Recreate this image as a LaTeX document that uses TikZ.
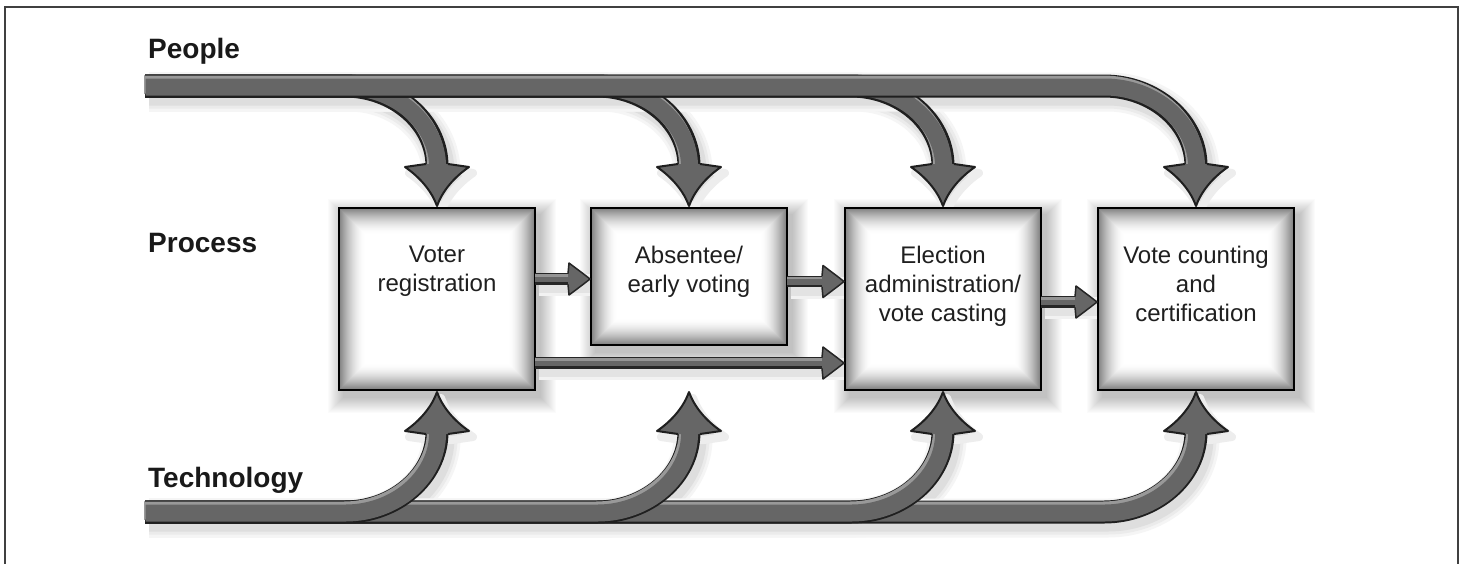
\documentclass[tikz,border=0pt]{standalone}
\usepackage{fontspec}
\setmainfont{Liberation Sans}
\usetikzlibrary{calc}
\pgfdeclarelayer{shadowlayer}
\pgfsetlayers{shadowlayer,main}

\newcommand\downheadpath{(-11,-42) -- (-32,-39) .. controls (-16,-28) and (-5,-14) .. (0,0) .. controls (5,-14) and (16,-28) .. (32,-39) -- (11,-42)}
\newcommand\rightheadpath{(-22,-5.5) -- (-21,-16) .. controls (-13,-10) and (-5,-4) .. (0,0) .. controls (-5,4) and (-13,10) .. (-21,16) -- (-22,5.5)}
\newcommand\ppath[1]{(pstart) -- ($(pstart -| #1.north)+(-92,0)$) .. controls ($(pstart -| #1.north)+(-42,0)$) and ($(pstart -| #1.north)+(0,36)$) .. ($(pstart -| #1.north)+(0,80)$) -- ($(#1.north)+(0,-36)$)}
\newcommand\tpath[1]{(tstart) -- ($(tstart -| #1.south)+(-92,0)$) .. controls ($(tstart -| #1.south)+(-42,0)$) and ($(tstart -| #1.south)+(0,-36)$) .. ($(tstart -| #1.south)+(0,-80)$) -- ($(tstart -| #1.south)+(0,-84)$)}

\newcommand\peoplearrow[1]{%
  \draw[bandout] \ppath{#1};
  \draw[bandlight, transform canvas={shift={(-1,-1.5)}}] \ppath{#1};
  \draw[bandin, transform canvas={shift={(0.6,1)}}] \ppath{#1};
  \begin{scope}[shift={($(#1.north)+(0,-2)$)}]
    \fill[headfill] \downheadpath -- cycle;
    \draw[headline] \downheadpath;
  \end{scope}}
\newcommand\techarrow[1]{%
  \draw[bandout] \tpath{#1};
  \draw[bandlight, transform canvas={shift={(-1,-1.5)}}] \tpath{#1};
  \draw[bandin, transform canvas={shift={(0.6,1)}}] \tpath{#1};
  \begin{scope}[shift={($(tstart -| #1.south)+(0,-120)$)},yscale=-1]
    \fill[headfill] \downheadpath -- cycle;
    \draw[headline] \downheadpath;
  \end{scope}}
\newcommand\hconn[2]{%
  \draw[hout] (#1) -- ($(#1 -| #2.west)+(-18,0)$);
  \draw[hlight, transform canvas={shift={(0,-1.5)}}] (#1) -- ($(#1 -| #2.west)+(-18,0)$);
  \draw[hin, transform canvas={shift={(0,0.5)}}] (#1) -- ($(#1 -| #2.west)+(-18,0)$);
  \begin{scope}[shift={($(#1 -| #2.west)+(-1,0)$)}]
    \fill[headfill] \rightheadpath -- cycle;
    \draw[hheadline] \rightheadpath;
  \end{scope}}
\newcommand\boxfade[1]{%
  \foreach \i in {1,...,26}{%
    \pgfmathsetmacro\c{50*(1-\i/26)^1.7}%
    \fill[black!\c] ([shift={(\i,\i)}]#1.north west) rectangle ([shift={(-\i,-\i)}]#1.south east);}
  \draw[black, line width=1.3] (#1.north west) rectangle (#1.south east);}
\newcommand\boxshadow[1]{%
  \foreach \i in {16,15,...,1}{%
    \pgfmathsetmacro\s{1.5*(17-\i)}%
    \fill[black!\s] ([shift={(-\i+5,-\i+7)}]#1.north west) rectangle ([shift={(\i+5,\i+7)}]#1.south east);}}

\begin{document}
\begin{tikzpicture}[x=1pt,y=-1pt,
  bandout/.style={line width=23, draw=black!88},
  bandlight/.style={line width=18, draw=black!40},
  bandin/.style={line width=17, draw=black!60},
  hout/.style={line width=11.5, draw=black!85},
  hlight/.style={line width=7, draw=black!42},
  hin/.style={line width=5.5, draw=black!60},
  headfill/.style={fill=black!60},
  headline/.style={draw=black!88, line width=2, line join=round},
  hheadline/.style={draw=black!85, line width=1.5, line join=round},
  procbox/.style={draw=black, line width=1.3, fill=black!50, minimum width=196, minimum height=182, inner sep=0, outer sep=0},
  boxtext/.style={align=center, font=\fontsize{24}{29}\selectfont, text=black!88, inner sep=0, anchor=north},
  sidelabel/.style={font=\fontsize{28}{32}\selectfont\bfseries, text=black!90, anchor=base west, inner sep=0}
]
\useasboundingbox (0,0) rectangle (1463,563);
\begin{pgfonlayer}{shadowlayer}
  \fill[white] (0,0) rectangle (1463,563);
\end{pgfonlayer}

\coordinate (pstart) at (145,86);
\coordinate (tstart) at (145,512);

% boxes
\node[procbox] (b1) at (437,299) {};
\boxfade{b1}
\node[procbox, minimum height=137] (b2) at (689,276.5) {};
\boxfade{b2}
\node[procbox] (b3) at (943,299) {};
\boxfade{b3}
\node[procbox] (b4) at (1196,299) {};
\boxfade{b4}

\node[boxtext] (t1) at ($(b1.north)+(0,38)$) {Voter\\registration};
\node[boxtext] (t2) at ($(b2.north)+(0,38)$) {Absentee/\\early voting};
\node[boxtext] (t3) at ($(b3.north)+(0,38)$) {Election\\administration/\\vote casting};
\node[boxtext] (t4) at ($(b4.north)+(0,38)$) {Vote counting\\and\\certification};

% side labels
\node[sidelabel] (lpeople) at (148,58) {People};
\node[sidelabel] (lprocess) at (148,252) {Process};
\node[sidelabel] (ltech) at (148,487) {Technology};

% connector start points
\coordinate (h1) at ($(b1.east)+(0,-20)$);
\coordinate (h2) at ($(b2.east)+(0,5)$);
\coordinate (h3) at ($(b3.east)+(0,3)$);
\coordinate (h4) at ($(b1.east)+(0,64)$);

% shadows
\begin{pgfonlayer}{shadowlayer}
  \boxshadow{b1}\boxshadow{b2}\boxshadow{b3}\boxshadow{b4}
  \begin{scope}[transform canvas={shift={(4,6)}}]
    \foreach \n in {b1,b2,b3,b4}{%
      \draw[line width=39, black!4] \ppath{\n};
      \draw[line width=33, black!8] \ppath{\n};
      \draw[line width=27, black!13] \ppath{\n};
      \draw[line width=39, black!4] \tpath{\n};
      \draw[line width=33, black!8] \tpath{\n};
      \draw[line width=27, black!13] \tpath{\n};
      \begin{scope}[shift={($(\n.north)+(0,-2)$)}]
        \fill[black!13, draw=black!7, line width=8, line join=round] \downheadpath -- cycle;
      \end{scope}
      \begin{scope}[shift={($(tstart -| \n.south)+(0,-120)$)},yscale=-1]
        \fill[black!13, draw=black!7, line width=8, line join=round] \downheadpath -- cycle;
      \end{scope}}
    \draw[line width=22, black!5] (h1) -- (h1 -| b2.west);
    \draw[line width=16, black!11] (h1) -- (h1 -| b2.west);
    \draw[line width=22, black!5] (h2) -- (h2 -| b3.west);
    \draw[line width=16, black!11] (h2) -- (h2 -| b3.west);
    \draw[line width=22, black!5] (h3) -- (h3 -| b4.west);
    \draw[line width=16, black!11] (h3) -- (h3 -| b4.west);
    \draw[line width=22, black!5] (h4) -- (h4 -| b3.west);
    \draw[line width=16, black!11] (h4) -- (h4 -| b3.west);
  \end{scope}
\end{pgfonlayer}

% people arrows
\peoplearrow{b1}
\peoplearrow{b2}
\peoplearrow{b3}
\peoplearrow{b4}

% process connectors
\hconn{h1}{b2}
\hconn{h2}{b3}
\hconn{h3}{b4}
\hconn{h4}{b3}

% technology arrows
\techarrow{b4}
\techarrow{b3}
\techarrow{b2}
\techarrow{b1}

% frame
\draw[black!75, line width=2] (5,7) rectangle (1458,580);
\end{tikzpicture}
\end{document}
